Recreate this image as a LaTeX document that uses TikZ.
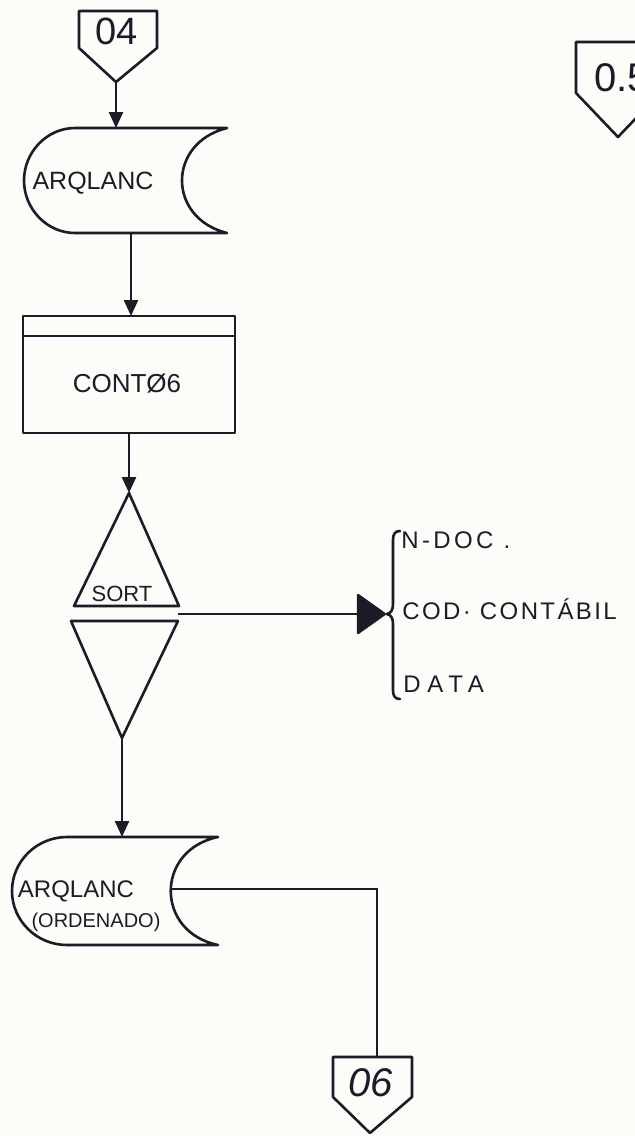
\documentclass[tikz,border=0pt]{standalone}
\usepackage{fontspec}
\setmainfont{Liberation Sans}
\usetikzlibrary{arrows.meta}
\definecolor{ink}{HTML}{1C1C28}
\definecolor{paper}{HTML}{FCFCF9}
\tikzset{
  outline/.style={draw=ink, line width=1.3pt, line join=round},
  conn/.style={draw=ink, line width=1.2pt},
  arr/.style={conn, -{Triangle[length=8pt,width=7pt]}},
  bigarr/.style={conn, -{Triangle[length=15pt,width=21pt,round]}},
  lbl/.style={inner sep=0pt, text=ink, font=\fontsize{12}{14}\selectfont},
  big/.style={lbl, font=\fontsize{19}{22}\selectfont},
}
\begin{document}
\begin{tikzpicture}[x=0.5pt,y=-0.5pt]
\useasboundingbox (0,0) rectangle (635,1136);
\fill[paper] (0,0) rectangle (635,1136);

% connector 04
\draw[outline] (79,11) -- (157,11) -- (157,48) -- (116,82) -- (79,48) -- cycle;
\node[big] (t04) at (117,31) {04};
\coordinate (o04) at (116,82);

% connector 0.5 (cut by the edge, as in the reference)
\draw[outline] (576,42) -- (660,42) -- (660,93) -- (618,137) -- (576,93) -- cycle;
\node[big, anchor=west, font=\fontsize{20}{22}\selectfont] (t05) at (594,78) {0.5};

% ARQLANC storage
\draw[outline] (75,128) -- (227,128) .. controls (167,143) and (167,218) .. (227,233)
  -- (75,233) .. controls (47,233) and (24,209) .. (24,180.5)
  .. controls (24,152) and (47,128) .. (75,128) -- cycle;
\node[lbl, font=\fontsize{12.5}{14}\selectfont] (arq) at (93,183) {ARQLANC};
\coordinate (iarq) at (116,128);
\coordinate (oarq) at (131,233);

% CONT06 process
\draw[outline] (23,316) rectangle (235,433);
\draw[outline] (23,336) -- (235,336);
\node[lbl, font=\fontsize{13}{15}\selectfont] (cont) at (127,384) {CONTØ6};
\coordinate (icont) at (131,316);
\coordinate (ocont) at (129,433);

% SORT
\draw[outline] (129,493) -- (179,606) -- (74,606) -- cycle;
\draw[outline] (71,621) -- (178,621) -- (122,738) -- cycle;
\node[lbl, font=\fontsize{11}{13}\selectfont] (sort) at (122,594) {SORT};
\coordinate (isort) at (129,493);
\coordinate (osort) at (122,738);
\coordinate (ssort) at (178,614);

% key brace
\draw[outline, line cap=round] (400,531) .. controls (395,531) and (393,534) .. (393,540)
  -- (393,604) .. controls (393,610) and (391,613) .. (387,614)
  .. controls (391,615) and (393,618) .. (393,624)
  -- (393,690) .. controls (393,696) and (395,699) .. (400,699);
\coordinate (brace) at (386,614);
\node[lbl, anchor=west] (k1) at (401,540) {\addfontfeature{LetterSpace=14}N-DOC .};
\node[lbl, anchor=west] (k2) at (402,609) {\addfontfeature{LetterSpace=10}COD· CONTÁBIL};
\node[lbl, anchor=west] (k3) at (403,684) {\addfontfeature{LetterSpace=28}DATA};

% ARQLANC (ORDENADO) storage
\draw[outline] (67,837) -- (218,837) .. controls (155,850) and (155,932) .. (218,945)
  -- (67,945) .. controls (37,945) and (12,921) .. (12,891)
  .. controls (12,861) and (37,837) .. (67,837) -- cycle;
\node[lbl] (arq2) at (76,891) {ARQLANC};
\node[lbl, font=\fontsize{10}{12}\selectfont] (ord) at (96,922) {(ORDENADO)};
\coordinate (iarq2) at (122,837);
\coordinate (oarq2) at (171,889);

% connector 06
\draw[outline] (333,1057) -- (412,1057) -- (412,1097) -- (370,1133) -- (333,1097) -- cycle;
\node[big, font=\fontsize{20}{22}\selectfont\itshape] (t06) at (371,1083) {06};
\coordinate (i06) at (377,1057);

% connectors
\draw[arr] (o04) -- (iarq);
\draw[arr] (oarq) -- (icont);
\draw[arr] (ocont) -- (isort);
\draw[bigarr] (ssort) -- (brace);
\draw[arr] (osort) -- (iarq2);
\draw[conn] (oarq2) -| (i06);
\end{tikzpicture}
\end{document}
